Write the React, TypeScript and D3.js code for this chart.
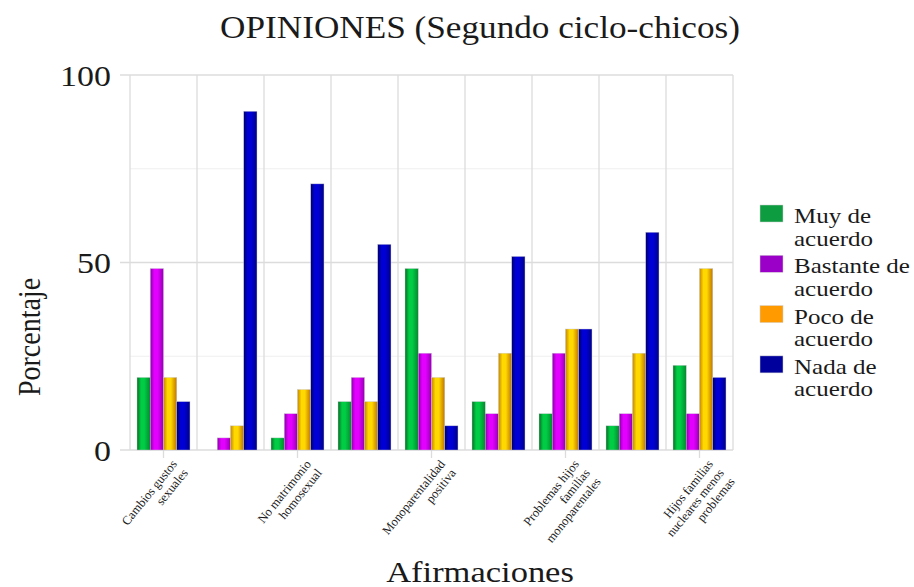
import React from "react";
import * as d3 from "d3";

const seriesNames = ["Muy de acuerdo", "Bastante de acuerdo", "Poco de acuerdo", "Nada de acuerdo"];
const legendLines = [
  ["Muy de", "acuerdo"],
  ["Bastante de", "acuerdo"],
  ["Poco de", "acuerdo"],
  ["Nada de", "acuerdo"],
];
const categoryIds = ["c1", "c2", "c3", "c4", "c5", "c6", "c7", "c8", "c9"];
const tickLabels = [
  ["Cambios gustos", "sexuales"],
  [],
  ["No matrimonio", "homosexual"],
  [],
  ["Monoparentalidad", "positiva"],
  [],
  ["Problemas hijos", "familias", "monoparentales"],
  [],
  ["Hijos familias", "nucleares menos", "problemas"],
];
const muyDeAcuerdo = [19.35, 0, 3.23, 12.9, 48.39, 12.9, 9.68, 6.45, 22.58];
const bastanteDeAcuerdo = [48.39, 3.23, 9.68, 19.35, 25.81, 9.68, 25.81, 9.68, 9.68];
const pocoDeAcuerdo = [19.35, 6.45, 16.13, 12.9, 19.35, 25.81, 32.26, 25.81, 48.39];
const nadaDeAcuerdo = [12.9, 90.32, 70.97, 54.84, 6.45, 51.61, 32.26, 58.06, 19.35];
const seriesValues = [muyDeAcuerdo, bastanteDeAcuerdo, pocoDeAcuerdo, nadaDeAcuerdo];
const yTicks = [0, 50, 100];
const yMinorTicks = [25, 75];
const legendColors = ["#0d9c40", "#9b00c9", "#ff9a00", "#00009c"];
const gradientStops = [
  ["#066b25", "#00cc44", "#05882f"],
  ["#8600a6", "#e400ff", "#9500b5"],
  ["#c48600", "#ffd800", "#bf7400"],
  ["#00006a", "#0000d6", "#000086"],
];

const W = 914;
const H = 587;
const M = { left: 130, right: 914 - 733, top: 75, bottom: 587 - 450 };
const FONT = "'Liberation Serif', 'Times New Roman', serif";
const TEXT = "#1a1a1a";

function SText({ x, y, k, size, anchor = "start", rotate = 0, children }: any) {
  return (
    <text
      transform={`translate(${x},${y}) scale(${k},1)${rotate ? ` rotate(${rotate})` : ""}`}
      fontSize={size}
      textAnchor={anchor}
      fill={TEXT}
      fontFamily={FONT}
    >
      {children}
    </text>
  );
}

export default function App() {
  const x0 = d3.scaleBand<string>().domain(categoryIds).range([M.left, W - M.right]).padding(0);
  const x1 = d3
    .scaleBand<string>()
    .domain(seriesNames)
    .range([0, x0.bandwidth()])
    .paddingInner(0)
    .paddingOuter(0.53);
  const y = d3.scaleLinear().domain([0, 100]).range([H - M.bottom, M.top]);
  const plotL = M.left;
  const plotR = W - M.right;

  const boundaries = categoryIds.map((c) => x0(c) as number).concat([plotR]);

  return (
    <svg
      width={W}
      height={H}
      style={{ position: "absolute", left: 0, top: 0, background: "#fff" }}
      fontFamily={FONT}
    >
      <defs>
        {gradientStops.map((s, i) => (
          <linearGradient key={i} id={`g${i}`} x1="0" x2="1" y1="0" y2="0">
            <stop offset="0%" stopColor={s[0]} />
            <stop offset="30%" stopColor={s[1]} />
            <stop offset="55%" stopColor={s[1]} />
            <stop offset="100%" stopColor={s[2]} />
          </linearGradient>
        ))}
      </defs>
      <rect x={0} y={0} width={W} height={H} fill="#fff" />

      {/* minor horizontal grid */}
      {yMinorTicks.map((t) => (
        <line key={`m${t}`} x1={plotL} x2={plotR} y1={y(t)} y2={y(t)} stroke="#efefef" strokeWidth={1} />
      ))}
      {/* vertical grid */}
      {boundaries.map((bx, i) => (
        <line key={`v${i}`} x1={bx} x2={bx} y1={y(100)} y2={y(0)} stroke="#dcdcdc" strokeWidth={1.3} />
      ))}
      {/* major horizontal grid + y ticks */}
      {yTicks.map((t) => (
        <line key={`h${t}`} x1={plotL - 10} x2={plotR} y1={y(t)} y2={y(t)} stroke="#dcdcdc" strokeWidth={1.3} />
      ))}
      {/* x ticks */}
      {categoryIds.map((c, i) =>
        tickLabels[i].length ? (
          <line
            key={`xt${c}`}
            x1={(x0(c) as number) + x0.bandwidth() / 2}
            x2={(x0(c) as number) + x0.bandwidth() / 2}
            y1={y(0)}
            y2={y(0) + 8}
            stroke="#dcdcdc"
            strokeWidth={1.3}
          />
        ) : null
      )}

      {/* bars */}
      {categoryIds.map((c, ci) => (
        <g key={c} transform={`translate(${x0(c)},0)`}>
          {seriesNames.map((s, si) => {
            const v = seriesValues[si][ci];
            if (!v) return null;
            return (
              <rect
                key={s}
                x={x1(s)}
                y={y(v)}
                width={x1.bandwidth()}
                height={y(0) - y(v)}
                fill={`url(#g${si})`}
                stroke="#c8c8d0"
                strokeWidth={0.5}
                strokeOpacity={0.8}
              />
            );
          })}
        </g>
      ))}

      {/* y tick labels */}
      {yTicks.map((t) => (
        <SText key={`yl${t}`} x={111} y={y(t) + 10.5} k={1.17} size={29} anchor="end">
          {t}
        </SText>
      ))}

      {/* x tick labels */}
      {categoryIds.map((c, i) =>
        tickLabels[i].length ? (
          <g
            key={`xl${c}`}
            transform={`translate(${(x0(c) as number) + x0.bandwidth() / 2},${y(0) + 8}) rotate(-51)`}
          >
            {tickLabels[i].map((ln, li) => (
              <text
                key={li}
                x={4}
                y={15 + li * 14}
                textAnchor="end"
                fontSize={12.5}
                fill={TEXT}
                fontFamily={FONT}
              >
                {ln}
              </text>
            ))}
          </g>
        ) : null
      )}

      {/* title */}
      <SText x={480} y={38} k={1.1} size={32} anchor="middle">
        OPINIONES (Segundo ciclo-chicos)
      </SText>
      {/* axis titles */}
      <SText x={480} y={582} k={1.15} size={30} anchor="middle">
        Afirmaciones
      </SText>
      <SText x={40} y={337} k={1.1} size={28} anchor="middle" rotate={-90}>
        Porcentaje
      </SText>

      {/* legend */}
      {seriesNames.map((s, i) => (
        <g key={`lg${s}`}>
          <rect
            x={760}
            y={205 + i * 50.3}
            width={23}
            height={17}
            fill={legendColors[i]}
            stroke="#d0d0d0"
            strokeWidth={0.5}
          />
          {legendLines[i].map((ln, li) => (
            <SText key={li} x={794} y={223 + i * 50.3 + li * 22.5} k={1.19} size={21}>
              {ln}
            </SText>
          ))}
        </g>
      ))}
    </svg>
  );
}
